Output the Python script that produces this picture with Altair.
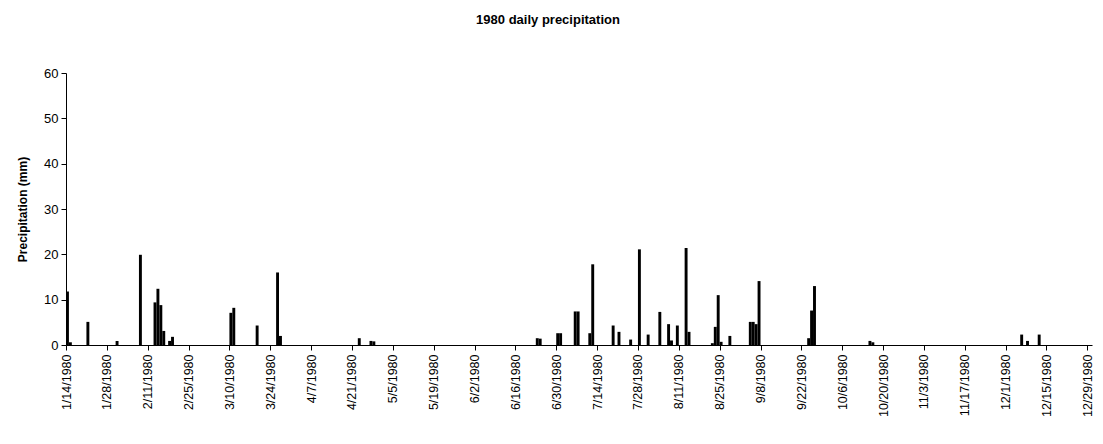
import altair as alt
import pandas as pd

# day offsets from 1/14/1980 and precipitation (mm)
days = [0, 1, 7, 17, 25, 30, 31, 32, 33, 35, 36, 56, 57, 65, 72, 73,
        100, 104, 105, 161, 162, 168, 169, 174, 175, 179, 180, 187, 189,
        193, 196, 199, 203, 206, 207, 209, 212, 213, 221, 222, 223, 224,
        227, 234, 235, 236, 237, 254, 255, 256, 275, 276, 327, 329, 333]
precip = [11.8, 0.6, 5.1, 0.9, 19.9, 9.4, 12.4, 8.8, 3.1, 0.9, 1.8, 7.1, 8.2, 4.3, 16.0, 2.0,
          1.5, 0.9, 0.8, 1.5, 1.4, 2.6, 2.6, 7.4, 7.4, 2.6, 17.8, 4.3, 2.9,
          1.2, 21.1, 2.3, 7.3, 4.6, 1.0, 4.3, 21.4, 2.9, 0.4, 4.0, 11.0, 0.7,
          2.0, 5.1, 5.1, 4.6, 14.1, 1.5, 7.6, 13.0, 0.9, 0.6, 2.3, 0.9, 2.3]
tick_days = list(range(0, 351, 14))
y_ticks = [0, 10, 20, 30, 40, 50, 60]

df = pd.DataFrame({"day": days, "mm": precip})
df["day_end"] = df["day"] + 1

FONT = "Liberation Sans"

chart = alt.Chart(df).mark_rect(color="black").encode(
    x=alt.X("day:Q",
            scale=alt.Scale(domain=[0, 351.6], nice=False, zero=False),
            axis=alt.Axis(values=tick_days, title=None, labelAngle=-90,
                          labelExpr="timeFormat(datetime(1980, 0, 14 + datum.value), '%-m/%-d/%Y')",
                          labelFont=FONT, labelFontSize=12.5, labelColor="black",
                          labelAlign="right", labelBaseline="middle", labelPadding=4,
                          tickSize=5, tickColor="black", domainColor="black",
                          grid=False, labelOverlap=False)),
    x2="day_end:Q",
    y=alt.Y("mm:Q",
            scale=alt.Scale(domain=[0, 60], nice=False),
            axis=alt.Axis(values=y_ticks, title="Precipitation (mm)",
                          titleFont=FONT, titleFontSize=12, titleFontWeight="bold",
                          titleColor="black", titlePadding=14,
                          labelFont=FONT, labelFontSize=13, labelColor="black",
                          labelPadding=3, tickSize=5, tickColor="black",
                          domainColor="black", grid=False)),
    y2=alt.datum(0),
).properties(
    width=1026,
    height=272,
    title=alt.TitleParams("1980 daily precipitation", font=FONT, fontSize=13,
                          fontWeight="bold", color="black", anchor="middle",
                          offset=40, dx=-31),
    autosize=alt.AutoSizeParams(type="none"),
    padding={"left": 58, "top": 65, "right": 3, "bottom": 85},
).configure_view(stroke=None)

chart.save("out.html", embed_options={"renderer": "svg", "actions": False})
